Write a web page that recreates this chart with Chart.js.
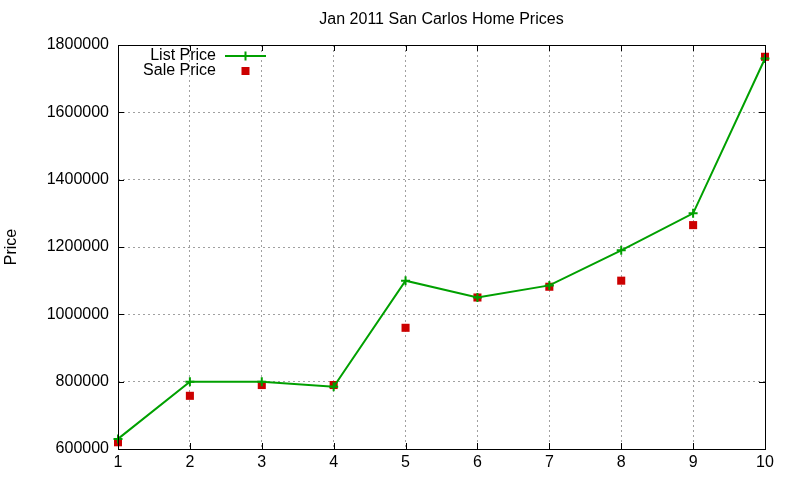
<!DOCTYPE html>
<html>
<head>
<meta charset="utf-8">
<script src="https://cdn.jsdelivr.net/npm/chart.js@4.4.0/dist/chart.umd.min.js"></script>
<style>
  html, body { margin: 0; padding: 0; background: #fff; }
  #wrap { width: 800px; height: 480px; }
</style>
</head>
<body>
<div id="wrap"><canvas id="line-chart"></canvas></div>
<script>
const houses = [1, 2, 3, 4, 5, 6, 7, 8, 9, 10];
const listPrice = [630000, 800000, 800000, 785000, 1100000, 1050000, 1086000, 1190000, 1300000, 1760000];
const salePrice = [620000, 758000, 790000, 790000, 960000, 1050000, 1082000, 1100000, 1265000, 1765000];
const yTicks = [600000, 800000, 1000000, 1200000, 1400000, 1600000, 1800000];
const chartTitle = "Jan 2011 San Carlos Home Prices";

const green = "#00a000";
const red = "#cc0000";
const font = "'Liberation Sans', Arial, sans-serif";

// gnuplot style frame: border box with inward ticks on all sides
const frame = {
    id: 'frame',
    afterDatasetsDraw(chart) {
        const ctx = chart.ctx;
        const a = chart.chartArea;
        const xs = chart.scales.x, ys = chart.scales.y;
        ctx.save();
        ctx.strokeStyle = "#000";
        ctx.lineWidth = 1;
        ctx.beginPath();
        xs.ticks.forEach(t => {
            const px = Math.round(xs.getPixelForValue(t.value)) + 0.5;
            ctx.moveTo(px, a.bottom); ctx.lineTo(px, a.bottom - 6);
            ctx.moveTo(px, a.top); ctx.lineTo(px, a.top + 6);
        });
        ys.ticks.forEach(t => {
            const py = Math.round(ys.getPixelForValue(t.value)) + 0.5;
            ctx.moveTo(a.left, py); ctx.lineTo(a.left + 6, py);
            ctx.moveTo(a.right, py); ctx.lineTo(a.right - 6, py);
        });
        ctx.stroke();
        ctx.strokeRect(Math.round(a.left) + 0.5, Math.round(a.top) + 0.5,
            Math.round(a.right - a.left), Math.round(a.bottom - a.top));
        ctx.restore();
    }
};

// title centred over the plot area, legend in gnuplot layout
const keyBox = {
    id: 'keyBox',
    afterDraw(chart) {
        const ctx = chart.ctx;
        const a = chart.chartArea;
        ctx.save();
        ctx.font = "16px " + font;
        ctx.fillStyle = "#000";
        ctx.textAlign = "center";
        ctx.textBaseline = "middle";
        ctx.fillText(chartTitle, (a.left + a.right) / 2, 20);

        const textRight = a.left + 98;
        const sx = a.left + 107, ex = a.left + 148, mx = a.left + 127.5;
        const y1 = a.top + 11, y2 = a.top + 26;
        ctx.textAlign = "right";
        ctx.fillText(chart.data.datasets[0].label, textRight, y1);
        ctx.fillText(chart.data.datasets[1].label, textRight, y2);
        ctx.strokeStyle = green;
        ctx.lineWidth = 2;
        ctx.beginPath();
        ctx.moveTo(sx, y1); ctx.lineTo(ex, y1);
        ctx.moveTo(mx, y1 - 4.5); ctx.lineTo(mx, y1 + 4.5);
        ctx.stroke();
        ctx.fillStyle = red;
        ctx.fillRect(mx - 4, y2 - 4, 8, 8);
        ctx.restore();
    }
};

const datos = {
    labels: houses,
    datasets: [
        {
            label: "List Price",
            data: houses.map((h, i) => ({x: h, y: listPrice[i]})),
            borderColor: green,
            backgroundColor: green,
            borderWidth: 2,
            pointStyle: 'cross',
            pointRadius: 4.5,
            pointBorderWidth: 2,
            pointHoverRadius: 4.5,
            tension: 0,
            clip: false
        },
        {
            label: "Sale Price",
            data: houses.map((h, i) => ({x: h, y: salePrice[i]})),
            showLine: false,
            borderColor: red,
            backgroundColor: red,
            pointStyle: 'rect',
            pointRadius: 5.7,
            pointBorderWidth: 0,
            pointHoverRadius: 5.7,
            clip: false
        }]
};

const opciones = {
    responsive: true,
    maintainAspectRatio: false,
    animation: false,
    layout: { padding: { left: 0, right: 35, top: 45, bottom: 0 } },
    plugins: {
        legend: { display: false },
        tooltip: { enabled: false },
        title: { display: false }
    },
    scales: {
        x: {
            type: 'linear',
            min: 1,
            max: 10,
            afterFit(s) { s.height = 31; },
            afterBuildTicks(s) { s.ticks = houses.map(v => ({value: v})); },
            ticks: {
                color: "#000",
                padding: 4,
                font: { family: font, size: 16 },
                maxRotation: 0
            },
            grid: { color: "#a0a0a0", drawTicks: false, tickLength: 0 },
            border: { display: false, dash: [2, 3] }
        },
        y: {
            min: 600000,
            max: 1800000,
            afterFit(s) { s.width = 118; },
            afterBuildTicks(s) { s.ticks = yTicks.map(v => ({value: v})); },
            ticks: {
                color: "#000",
                padding: 9,
                font: { family: font, size: 16 },
                callback: v => String(v)
            },
            title: {
                display: true,
                text: "Price",
                color: "#000",
                font: { family: font, size: 16 },
                padding: { top: 2, bottom: 0 }
            },
            grid: { color: "#a0a0a0", drawTicks: false, tickLength: 0 },
            border: { display: false, dash: [2, 3] }
        }
    }
};

new Chart(document.getElementById('line-chart'), {
    type: 'line',
    data: datos,
    options: opciones,
    plugins: [frame, keyBox]
});
</script>
</body>
</html>
